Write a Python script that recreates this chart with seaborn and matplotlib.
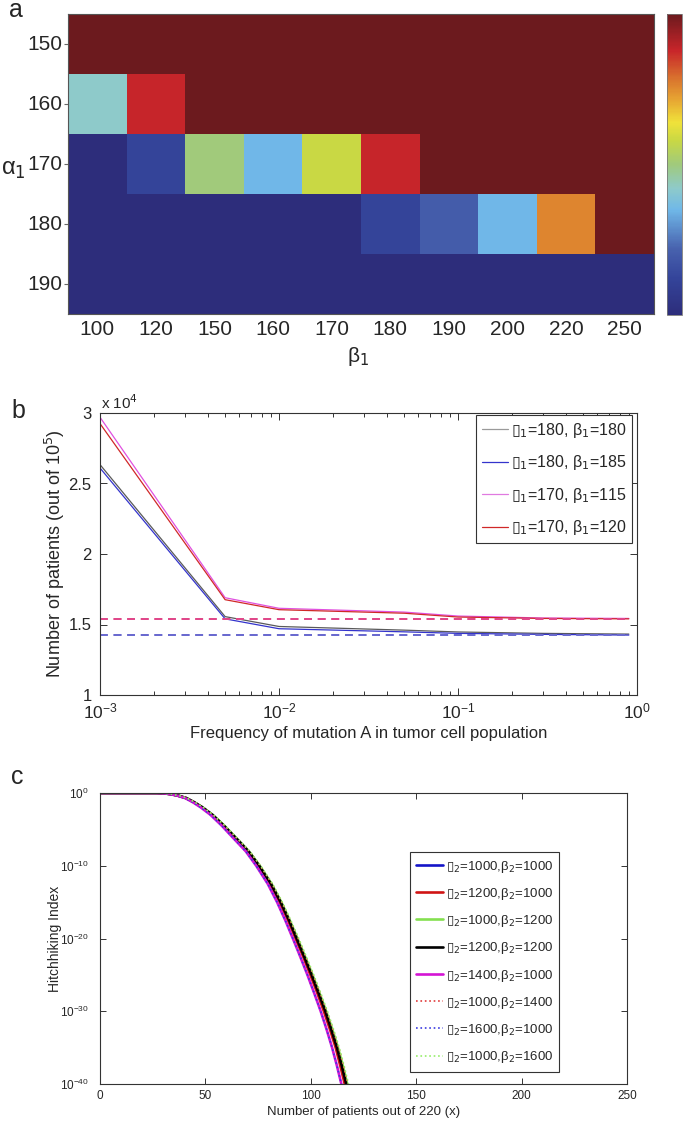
import numpy as np
import pandas as pd
import matplotlib
matplotlib.use("Agg")
import matplotlib.pyplot as plt
import seaborn as sns
from matplotlib.colors import LinearSegmentedColormap
from matplotlib.ticker import LogFormatterSciNotation, NullLocator, FixedLocator

sns.set_theme(style="white")
plt.rcParams['font.family'] = ['Liberation Sans', 'DejaVu Sans']

# ---- panel a: heatmap values (0 = dark blue, 1 = dark red)
a_alpha = [150, 160, 170, 180, 190]
a_beta = [100, 120, 150, 160, 170, 180, 190, 200, 220, 250]
a_row150 = [1.0, 1.0, 1.0, 1.0, 1.0, 1.0, 1.0, 1.0, 1.0, 1.0]
a_row160 = [0.42, 0.88, 1.0, 1.0, 1.0, 1.0, 1.0, 1.0, 1.0, 1.0]
a_row170 = [0.0, 0.12, 0.50, 0.35, 0.58, 0.88, 1.0, 1.0, 1.0, 1.0]
a_row180 = [0.0, 0.0, 0.0, 0.0, 0.0, 0.12, 0.20, 0.35, 0.76, 1.0]
a_row190 = [0.0, 0.0, 0.0, 0.0, 0.0, 0.0, 0.0, 0.0, 0.0, 0.0]

# ---- panel b: patients (x 10^4) vs mutation frequency
b_freq = [0.001, 0.005, 0.01, 0.05, 0.1, 0.3, 0.9]
b_a180_b180 = [2.634, 1.556, 1.486, 1.46, 1.447, 1.437, 1.432]
b_a180_b185 = [2.61, 1.54, 1.47, 1.448, 1.437, 1.43, 1.425]
b_a170_b115 = [2.97, 1.69, 1.615, 1.588, 1.56, 1.546, 1.543]
b_a170_b120 = [2.925, 1.676, 1.605, 1.58, 1.553, 1.543, 1.54]
b_limit = [1.425, 1.425, 1.542, 1.542]
b_labels = ["$▯_1$=180, β$_1$=180", "$▯_1$=180, β$_1$=185",
            "$▯_1$=170, β$_1$=115", "$▯_1$=170, β$_1$=120"]

# ---- panel c: hitchhiking index (as -log10) vs number of patients
c_neglog = [0, 0, 0.05, 0.15, 0.35, 0.7, 1.28, 2, 3, 4.5, 6, 8, 10, 12.5, 15,
            17.5, 20, 22.5, 25, 27.5, 30, 32.5, 35, 37.5, 40, 42.5, 45]
c_a1000_b1000 = [0, 27, 30.5, 33.5, 36.9, 40.9, 44.7, 48.7, 53.3, 58.8, 63.8, 70.4, 75.5, 81.1, 85.7,
                 89.7, 93.3, 96.9, 100.4, 103.7, 106.9, 109.7, 112.4, 114.7, 116.8, 118.8, 120.7]
c_a1200_b1000 = [0, 27, 30.4, 33.4, 36.9, 40.8, 44.6, 48.5, 53.1, 58.6, 63.5, 70.0, 75.2, 80.7, 85.2,
                 89.2, 92.8, 96.4, 99.8, 103.1, 106.2, 109.1, 111.8, 114.0, 116.1, 118.1, 120.0]
c_a1000_b1200 = [0, 27, 30.5, 33.5, 37, 41, 44.8, 48.8, 53.4, 59, 64, 70.6, 75.8, 81.4, 86,
                 90, 93.7, 97.3, 100.8, 104.1, 107.3, 110.2, 112.9, 115.2, 117.3, 119.3, 121.2]
c_a1200_b1200 = [0, 27, 30.5, 33.5, 36.9, 40.9, 44.7, 48.7, 53.3, 58.8, 63.8, 70.4, 75.5, 81.1, 85.7,
                 89.7, 93.3, 96.9, 100.4, 103.7, 106.9, 109.7, 112.4, 114.7, 116.8, 118.8, 120.7]
c_a1400_b1000 = [0, 26.5, 30.1, 33.1, 36.5, 40.4, 44.1, 47.9, 52.4, 57.8, 62.6, 69.1, 74.1, 79.6, 84.0,
                 87.9, 91.5, 95.0, 98.4, 101.6, 104.7, 107.5, 110.1, 112.4, 114.5, 116.4, 118.3]
c_a1000_b1400 = [0, 27, 30.6, 33.6, 37.1, 41.1, 44.9, 48.9, 53.5, 59.1, 64.2, 70.8, 76.0, 81.6, 86.2,
                 90.2, 94.0, 97.6, 101.1, 104.4, 107.6, 110.5, 113.2, 115.5, 117.6, 119.6, 121.5]
c_a1600_b1000 = [0, 26.5, 30.1, 33.1, 36.5, 40.4, 44.1, 47.9, 52.4, 57.8, 62.6, 69.1, 74.1, 79.6, 84.0,
                 87.9, 91.5, 95.0, 98.4, 101.6, 104.7, 107.5, 110.1, 112.4, 114.5, 116.4, 118.3]
c_a1000_b1600 = [0, 27, 30.7, 33.7, 37.2, 41.2, 45.0, 49.1, 53.7, 59.3, 64.4, 71.0, 76.2, 81.9, 86.5,
                 90.5, 94.3, 97.9, 101.4, 104.7, 107.9, 110.8, 113.5, 115.8, 117.9, 119.9, 121.8]
c_labels = ["$▯_2$=1000,β$_2$=1000", "$▯_2$=1200,β$_2$=1000", "$▯_2$=1000,β$_2$=1200",
            "$▯_2$=1200,β$_2$=1200", "$▯_2$=1400,β$_2$=1000", "$▯_2$=1000,β$_2$=1400",
            "$▯_2$=1600,β$_2$=1000", "$▯_2$=1000,β$_2$=1600"]

W, H = 685, 1123


def box(left, top, right, bottom):
    # pixel box -> figure fraction rect
    return [left / W, 1 - bottom / H, (right - left) / W, (bottom - top) / H]


fig = plt.figure(figsize=(W / 100, H / 100), dpi=100)

# ================= panel a
jet_like = LinearSegmentedColormap.from_list("jet_like", [
    (0.0, '#2d2d7b'), (0.12, '#34449a'), (0.22, '#4862ae'), (0.35, '#70b8e8'),
    (0.42, '#8ecaca'), (0.50, '#a0ca7c'), (0.58, '#c9d844'), (0.64, '#f0e23a'),
    (0.72, '#e6a232'), (0.78, '#da782e'), (0.88, '#c8252a'), (1.0, '#6c1a1e')])

df_a = pd.DataFrame([a_row150, a_row160, a_row170, a_row180, a_row190],
                    index=a_alpha, columns=a_beta)
ax_a = fig.add_axes(box(68, 14, 654, 314))
cax = fig.add_axes(box(667, 14, 682, 315))
sns.heatmap(df_a, ax=ax_a, cmap=jet_like, vmin=0, vmax=1, cbar_ax=cax,
            xticklabels=a_beta, yticklabels=a_alpha)
ax_a.tick_params(axis='y', left=True, length=3, width=0.8, color='#666666',
                 labelsize=15, pad=1, rotation=0)
ax_a.tick_params(axis='x', bottom=False, length=0, labelsize=15, pad=4, rotation=0)
for s in ax_a.spines.values():
    s.set_visible(True)
    s.set_color('#555555')
    s.set_linewidth(0.8)
cax.set_yticks([])
cax.tick_params(right=False, left=False)
cbar = ax_a.collections[0].colorbar
cbar.outline.set_edgecolor('#777777')
cbar.outline.set_linewidth(0.6)

fig.text(16 / W, 1 - 10 / H, "a", fontsize=18, ha='center', va='center')
fig.text(1 / W, 1 - 170 / H, "α$_1$", fontsize=17, ha='left', va='center')
fig.text(358 / W, 1 - 357 / H, "β$_1$", fontsize=15, ha='center', va='center')

# ================= panel b
ax_b = fig.add_axes(box(100, 413, 637, 695))
b_series = [b_a180_b180, b_a180_b185, b_a170_b115, b_a170_b120]
b_colors = ['#5a5a5a', '#3434cc', '#e050e0', '#d02828']
b_legend_colors = ['#9a9a9a', '#3434cc', '#e07ae0', '#d02828']
b_dash_colors = ['#7070c8', '#6a6ad0', '#e4508e', '#e0488a']
for vals, col, lab in zip(b_series, b_colors, b_labels):
    sns.lineplot(x=b_freq, y=vals, ax=ax_b, color=col, linewidth=0.9, label=lab)
for lim, col in zip(b_limit, b_dash_colors):
    sns.lineplot(x=[b_freq[0], b_freq[-1]], y=[lim, lim], ax=ax_b, color=col,
                 linewidth=1.4, dashes=(4, 3))
ax_b.set_xscale('log')
ax_b.set_xlim(1e-3, 1)
ax_b.set_ylim(1, 3)
ax_b.set_yticks([1, 1.5, 2, 2.5, 3])
ax_b.set_yticklabels(["1", "1.5", "2", "2.5", "3"])
ax_b.set_xticks([1e-3, 1e-2, 1e-1, 1])
ax_b.xaxis.set_major_formatter(LogFormatterSciNotation())
ax_b.tick_params(which='both', direction='in', top=True, right=True,
                 bottom=True, left=True, color='#333333', width=0.7)
ax_b.tick_params(which='major', length=5, labelsize=12.5)
ax_b.tick_params(axis='y', pad=6, labelsize=12)
ax_b.tick_params(axis='x', pad=5)
ax_b.tick_params(which='minor', length=3)
for lbl in ax_b.get_yticklabels():
    lbl.set_family(['Liberation Sans Narrow', 'Liberation Sans', 'DejaVu Sans'])
for s in ax_b.spines.values():
    s.set_color('#333333')
    s.set_linewidth(0.8)
ax_b.set_xlabel("Frequency of mutation A in tumor cell population", fontsize=12, labelpad=3)
ax_b.set_ylabel("Number of patients (out of 10$^5$)", fontsize=13)
ax_b.yaxis.set_label_coords(-0.062, 0.5)
ax_b.text(0.002, 1.005, "x 10$^4$", transform=ax_b.transAxes, fontsize=11,
          ha='left', va='bottom')
handles, labels = ax_b.get_legend_handles_labels()
leg_b = ax_b.legend(handles[:4], labels[:4], loc='upper right',
                    bbox_to_anchor=(0.991, 0.993), fontsize=11.5, frameon=True,
                    fancybox=False, edgecolor='#333333', framealpha=1,
                    handlelength=1.6, handletextpad=0.2, labelspacing=0.85,
                    borderpad=0.35, borderaxespad=0)
leg_b.get_frame().set_linewidth(0.8)
for h, col in zip(leg_b.get_lines(), b_legend_colors):
    h.set_color(col)
fig.text(18 / W, 1 - 411 / H, "b", fontsize=18, ha='center', va='center')

# ================= panel c
ax_c = fig.add_axes(box(100, 793, 627, 1084))
c_series = [c_a1000_b1000, c_a1200_b1000, c_a1000_b1200, c_a1200_b1200,
            c_a1400_b1000, c_a1000_b1400, c_a1600_b1000, c_a1000_b1600]
c_colors = ['#1414c8', '#d01414', '#84e050', '#000000', '#d414d4',
            '#e03a3a', '#3a3ae0', '#96ee6a']
c_styles = ['-', '-', '-', '-', '-', ':', ':', ':']
c_index = [10.0 ** (-v) for v in c_neglog]
for xs, col, ls, lab in zip(c_series, c_colors, c_styles, c_labels):
    lw = 1.9 if ls == '-' else 1.2
    sns.lineplot(x=xs, y=c_index, ax=ax_c, color=col, linewidth=lw,
                 linestyle=ls, label=lab, sort=False)
ax_c.set_yscale('log')
ax_c.set_xlim(0, 250)
ax_c.set_ylim(1e-40, 1)
ax_c.yaxis.set_major_locator(FixedLocator([1e-40, 1e-30, 1e-20, 1e-10, 1]))
ax_c.yaxis.set_major_formatter(LogFormatterSciNotation())
ax_c.yaxis.set_minor_locator(NullLocator())
ax_c.set_xticks([0, 50, 100, 150, 200, 250])
ax_c.tick_params(which='both', direction='in', top=True, right=True,
                 bottom=True, left=True, color='#333333', width=0.7,
                 length=4, labelsize=8.5)
ax_c.tick_params(axis='y', pad=8)
ax_c.tick_params(axis='x', pad=4)
for s in ax_c.spines.values():
    s.set_color('#333333')
    s.set_linewidth(0.8)
ax_c.set_xlabel("Number of patients out of 220 (x)", fontsize=9.5, labelpad=3)
ax_c.set_ylabel("Hitchhiking Index", fontsize=10)
ax_c.yaxis.set_label_coords(-0.072, 0.5)
leg_c = ax_c.legend(loc='upper left', bbox_to_anchor=(0.588, 0.797), fontsize=9.5,
                    frameon=True, fancybox=False, edgecolor='#333333', framealpha=1,
                    handlelength=2.0, handletextpad=0.2, labelspacing=0.85,
                    borderpad=0.5, borderaxespad=0)
leg_c.get_frame().set_linewidth(0.8)
fig.text(17 / W, 1 - 777 / H, "c", fontsize=18, ha='center', va='center')

fig.savefig("out.png", dpi=100)
